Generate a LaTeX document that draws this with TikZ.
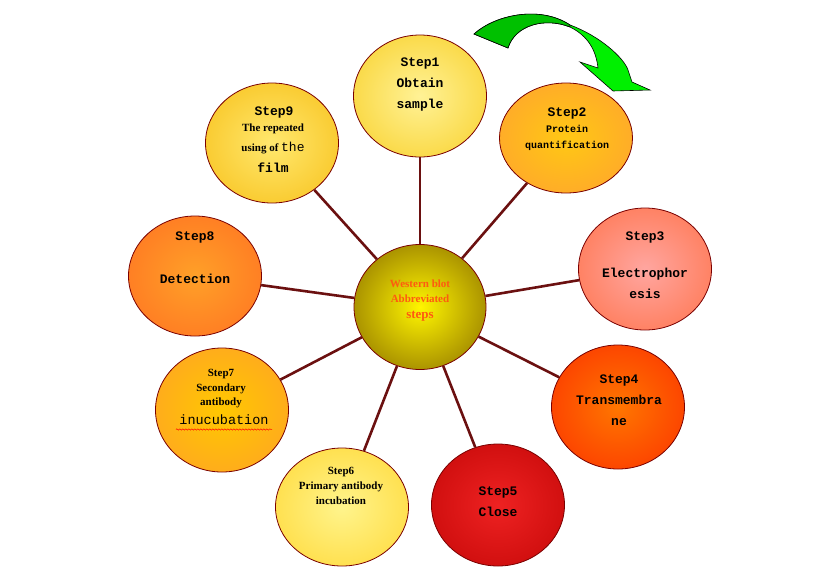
\documentclass[tikz,border=0pt]{standalone}
\usepackage{fontspec}
\setmainfont{Liberation Serif}
\setmonofont{Liberation Mono}
\usetikzlibrary{shapes.geometric, decorations.pathmorphing}

\definecolor{rimred}{HTML}{7A0000}
\definecolor{spokebrown}{HTML}{6B1010}
\definecolor{hubtext}{HTML}{FF5A10}
\definecolor{darkgreen}{HTML}{00C000}
\definecolor{lightgreen}{HTML}{00F000}
% centre and rim colours of the circles
\definecolor{hubin}{RGB}{255,245,0}     \definecolor{hubout}{RGB}{100,66,0}
\definecolor{oneIn}{RGB}{255,242,150}   \definecolor{oneOut}{RGB}{246,198,10}
\definecolor{twoIn}{RGB}{255,200,20}    \definecolor{twoOut}{RGB}{255,150,56}
\definecolor{threeIn}{RGB}{255,166,160} \definecolor{threeOut}{RGB}{255,100,50}
\definecolor{fourIn}{RGB}{255,118,0}    \definecolor{fourOut}{RGB}{250,30,0}
\definecolor{fiveIn}{RGB}{238,34,34}    \definecolor{fiveOut}{RGB}{185,0,0}
\definecolor{sixIn}{RGB}{255,244,140}   \definecolor{sixOut}{RGB}{255,208,30}
\definecolor{sevenIn}{RGB}{255,200,0}   \definecolor{sevenOut}{RGB}{255,150,50}
\definecolor{eightIn}{RGB}{255,160,40}  \definecolor{eightOut}{RGB}{255,100,32}
\definecolor{nineIn}{RGB}{255,232,110}  \definecolor{nineOut}{RGB}{245,180,0}

% radial shading that runs right out to the rim
\makeatletter
\pgfdeclareradialshading[tikz@radial@outer,tikz@radial@inner]{rimradial}{\pgfpoint{0bp}{0bp}}{%
  color(0bp)=(tikz@radial@inner); color(46bp)=(tikz@radial@outer); color(50bp)=(tikz@radial@outer)}
\makeatother

\tikzset{
  stepcircle/.style={ellipse, draw=rimred, line width=0.8pt, minimum width=133pt, minimum height=122pt, inner sep=0pt},
  fill in/.style 2 args={inner color=#1, outer color=#2, shading=rimradial},
  spoke/.style={draw=spokebrown, line width=2.6pt},
  steptext/.style={align=center, font=\ttfamily\bfseries\fontsize{13}{21}\selectfont},
  smallmono/.style={align=center, font=\ttfamily\bfseries\fontsize{10}{16}\selectfont},
  smallserif/.style={align=center, font=\rmfamily\bfseries\fontsize{11}{15}\selectfont},
}

\begin{document}
\begin{tikzpicture}[x=1pt, y=-1pt]
  \useasboundingbox (0,0) rectangle (840,576);

  % Define the hub and the nine step circles
  \node[stepcircle, minimum width=132pt, minimum height=125pt, fill in={hubin}{hubout}] (hub) at (420,307) {};
  \node[stepcircle, fill in={oneIn}{oneOut}] (s1) at (420,96) {};
  \node[stepcircle, minimum height=110pt, fill in={twoIn}{twoOut}] (s2) at (566,138) {};
  \node[stepcircle, fill in={threeIn}{threeOut}] (s3) at (645,269) {};
  \node[stepcircle, minimum height=124pt, fill in={fourIn}{fourOut}] (s4) at (618,407) {};
  \node[stepcircle, fill in={fiveIn}{fiveOut}] (s5) at (498,505) {};
  \node[stepcircle, minimum height=118pt, fill in={sixIn}{sixOut}] (s6) at (342,507) {};
  \node[stepcircle, minimum height=124pt, fill in={sevenIn}{sevenOut}] (s7) at (222,410) {};
  \node[stepcircle, minimum height=120pt, fill in={eightIn}{eightOut}] (s8) at (195,276) {};
  \node[stepcircle, minimum height=120pt, fill in={nineIn}{nineOut}] (s9) at (272,143) {};

  % Draw the spokes
  \draw[spoke] (hub) -- (s1);
  \draw[spoke] (hub) -- (s2);
  \draw[spoke] (hub) -- (s3);
  \draw[spoke] (hub) -- (s4);
  \draw[spoke] (hub) -- (s5);
  \draw[spoke] (hub) -- (s6);
  \draw[spoke] (hub) -- (s7);
  \draw[spoke] (hub) -- (s8);
  \draw[spoke] (hub) -- (s9);

  % Label the hub
  \node[smallserif, text=hubtext] (hubt) at (420,291) {Western blot\\Abbreviated};
  \node[font=\rmfamily\bfseries\fontsize{13}{15}\selectfont, text=hubtext] (hubs) at (420,316) {steps};

  % Label the steps
  \node[steptext] (t1) at (420,84) {Step1\\Obtain\\sample};
  \node[steptext] (t2) at (567,113) {Step2};
  \node[smallmono] (t2b) at (567,138) {Protein\\quantification};
  \node[steptext] (t3) at (645,237) {Step3};
  \node[steptext] (t3b) at (645,283) {Electrophor\\esis};
  \node[steptext] (t4) at (619,400) {Step4\\Transmembra\\ne};
  \node[steptext] (t5) at (498,502) {Step5\\Close};
  \node[smallserif] (t6) at (341,486) {Step6\\Primary antibody\\incubation};
  \node[smallserif, font=\rmfamily\bfseries\fontsize{11}{14.5}\selectfont] (t7) at (221,389) {Step7\\Secondary\\antibody};
  \node[font=\ttfamily\fontsize{13.5}{15}\selectfont] (t7b) at (224,420) {inucubation};
  \node[steptext] (t8) at (195,237) {Step8};
  \node[steptext] (t8b) at (195,279) {Detection};
  \node[steptext] (t9) at (274,112) {Step9};
  \node[smallserif] (t9b) at (273,129) {The repeated};
  \node (t9c) at (273,148) {\rmfamily\bfseries\fontsize{11}{15}\selectfont using of \ttfamily\mdseries\fontsize{13}{15}\selectfont the};
  \node[steptext] (t9d) at (273,168) {film};

  % Wavy underline under the misspelt word
  \draw[red, line width=0.5pt, decorate, decoration={snake, amplitude=0.7pt, segment length=3pt}]
    ([yshift=-1pt]t7b.south west) -- ([yshift=-1pt]t7b.south east);

  % Draw the green turning arrow
  \fill[lightgreen, draw=black, line width=0.6pt]
    (474,34) .. controls (495,15) and (540,5) .. (570,25)
    .. controls (600,36) and (624,58) .. (628,70) -- (632,82) -- (650,90) -- (613,91)
    -- (580,62) -- (598,68) .. controls (596,50) and (588,36) .. (570,27)
    .. controls (545,17) and (515,25) .. (508,48) -- cycle;
  \fill[darkgreen, draw=black, line width=0.6pt]
    (474,34) .. controls (495,15) and (540,5) .. (570,25) -- (570,27)
    .. controls (545,17) and (515,25) .. (508,48) -- cycle;
\end{tikzpicture}
\end{document}
